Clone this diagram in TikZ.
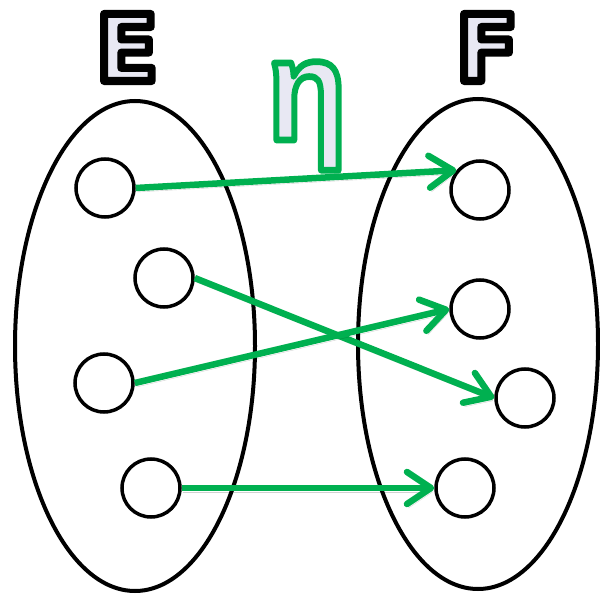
\documentclass[tikz,border=0pt]{standalone}
\usepackage{fontspec}
\usepackage{graphicx}
\setmainfont{Liberation Sans}
\newfontfamily\letterfont[FakeBold=8.7]{DejaVu Sans}
\newfontfamily\etafont[FakeBold=4.6]{Liberation Sans}
\usetikzlibrary{arrows.meta,shapes.geometric}
\definecolor{arrowgreen}{HTML}{00B050}
\definecolor{lav}{HTML}{E8E8F3}
\newcommand\outlined[3]{\special{pdf:literal direct 1 j 1 J}\special{pdf:bcolor [#1] [#2]}#3\special{pdf:ecolor}}
\begin{document}
\begin{tikzpicture}[x=1pt,y=-1pt,
  setbox/.style={draw=black, line width=4pt, ellipse, minimum width=240pt, minimum height=490pt, inner sep=0pt},
  elem/.style={draw=black, fill=white, line width=3.5pt, circle, minimum size=58pt, inner sep=0pt},
  arr/.style={draw=arrowgreen, line width=6.5pt, -{Straight Barb[length=24pt,width=32pt,round]},
    preaction={draw=black, opacity=0.18, transform canvas={shift={(1.5pt,-4pt)}}}},
  setlabel/.style={inner sep=0pt, anchor=base, font=\letterfont\bfseries\fontsize{92}{92}\selectfont}]
\useasboundingbox (0,0) rectangle (600,596);
\fill[white] (0,0) rectangle (600,596);

\node[setbox] (SE) at (135,346) {};
\node[setbox] (SF) at (478,344) {};

\node[setlabel] (E) at (127,81) {\outlined{0.91 0.91 0.953}{0 0 0}{E}};
\node[setlabel] (F) at (487,81) {\outlined{0.91 0.91 0.953}{0 0 0}{F}};

\node[inner sep=0pt, anchor=base, font=\etafont\bfseries\fontsize{130}{130}\selectfont] (eta) at (307,140)
  {\scalebox{1}[1.12]{\outlined{0.91 0.91 0.953}{0 0.69 0.314}{η}}};

\node[elem] (e1) at (105,188) {};
\node[elem] (e2) at (164,278) {};
\node[elem] (e3) at (104,383) {};
\node[elem] (e4) at (151,488) {};

\node[elem] (f1) at (480,190) {};
\node[elem] (f2) at (480,309) {};
\node[elem] (f3) at (525,398) {};
\node[elem] (f4) at (465,488) {};

\draw[arr] (e1.east) -- (f1.140);
\draw[arr] (e2.east) -- (f3.west);
\draw[arr] (e3.east) -- (f2.west);
\draw[arr] (e4.east) -- (f4.west);
\end{tikzpicture}
\end{document}
